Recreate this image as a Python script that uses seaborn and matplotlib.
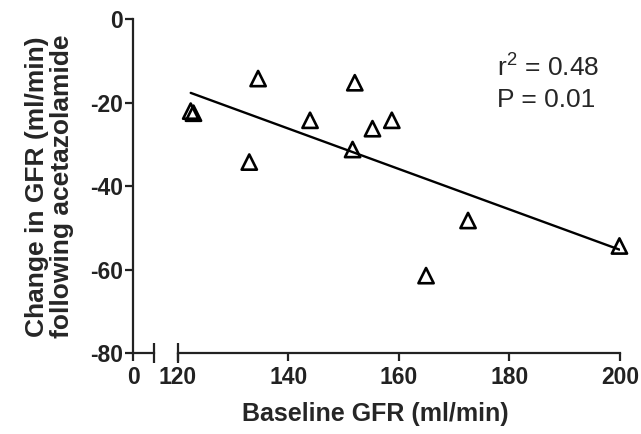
import numpy as np
import pandas as pd
import matplotlib
matplotlib.use("Agg")
import matplotlib.pyplot as plt
import seaborn as sns

# Baseline GFR vs change after acetazolamide
baseline_gfr = [122.3, 122.8, 134.5, 132.9, 152.0, 143.9, 155.2, 158.7, 151.6, 172.5, 164.9, 199.9]
change_gfr = [-22.0, -22.5, -14.2, -34.2, -15.2, -24.2, -26.2, -24.2, -31.2, -48.2, -61.4, -54.3]
x_ticks = [120, 140, 160, 180, 200]
y_ticks = [0, -20, -40, -60, -80]
stats_lines = ["r$^2$ = 0.48", "P = 0.01"]

df = pd.DataFrame({"baseline": baseline_gfr, "change": change_gfr})

sns.set_style("ticks")
plt.rcParams["font.family"] = ["Liberation Sans", "DejaVu Sans"]
plt.rcParams["mathtext.fontset"] = "custom"
plt.rcParams["mathtext.rm"] = "Liberation Sans"
plt.rcParams["axes.unicode_minus"] = False
plt.rcParams["axes.linewidth"] = 1.6
plt.rcParams["xtick.major.width"] = 1.6
plt.rcParams["ytick.major.width"] = 1.6
plt.rcParams["xtick.major.size"] = 6
plt.rcParams["ytick.major.size"] = 6
plt.rcParams["xtick.color"] = "#222222"
plt.rcParams["ytick.color"] = "#222222"

fig = plt.figure(figsize=(6.41, 4.34), dpi=100)
# broken x axis: short stub at 0, then 120-200
ax1 = fig.add_axes([0.2075, 0.186, 0.0328, 0.7696])
ax2 = fig.add_axes([0.2777, 0.186, 0.6895, 0.7696], sharey=ax1)

sns.scatterplot(data=df, x="baseline", y="change", ax=ax2, marker="^", s=120,
                facecolor="none", edgecolor="black", linewidth=1.9, zorder=3,
                clip_on=False)
sns.regplot(data=df, x="baseline", y="change", ax=ax2, scatter=False, ci=None,
            color="black", line_kws={"lw": 1.7})

ax1.set_xlim(0, 1)
ax1.set_xticks([0])
ax1.set_ylim(-80, 0)
ax1.set_yticks(y_ticks)
ax1.set_yticklabels([str(v) for v in y_ticks])
ax2.set_xlim(120, 200)
ax2.set_xticks(x_ticks)
ax2.set_xticklabels([str(v) for v in x_ticks])

for ax in (ax1, ax2):
    ax.spines["top"].set_visible(False)
    ax.spines["right"].set_visible(False)
    ax.spines["bottom"].set_color("#222222")
    ax.spines["left"].set_color("#222222")
    ax.tick_params(labelsize=16.5)
    ax.tick_params(axis="x", pad=3)
    ax.tick_params(axis="y", pad=1)
    for lab in ax.get_xticklabels() + ax.get_yticklabels():
        lab.set_fontweight("bold")
    ax.set_xlabel("")
    ax.set_ylabel("")

ax2.spines["left"].set_visible(False)
ax2.tick_params(axis="y", left=False, labelleft=False)

# end caps at the break
ax1.plot([1], [0], marker="|", ms=14, mew=1.6, color="#222222",
         transform=ax1.transAxes, clip_on=False)
ax2.plot([0], [0], marker="|", ms=14, mew=1.6, color="#222222",
         transform=ax2.transAxes, clip_on=False)

ax1.set_ylabel("Change in GFR (ml/min)\nfollowing acetazolamide", fontsize=19,
               fontweight="bold", labelpad=12, linespacing=1.05)
fig.text(0.585, 0.03, "Baseline GFR (ml/min)", ha="center", va="baseline",
         fontsize=18, fontweight="bold")

ax2.text(0.721, 0.83, stats_lines[0], transform=ax2.transAxes, ha="left",
         va="baseline", fontsize=19)
ax2.text(0.721, 0.737, stats_lines[1], transform=ax2.transAxes, ha="left",
         va="baseline", fontsize=19)

fig.savefig("out.png", dpi=100)
